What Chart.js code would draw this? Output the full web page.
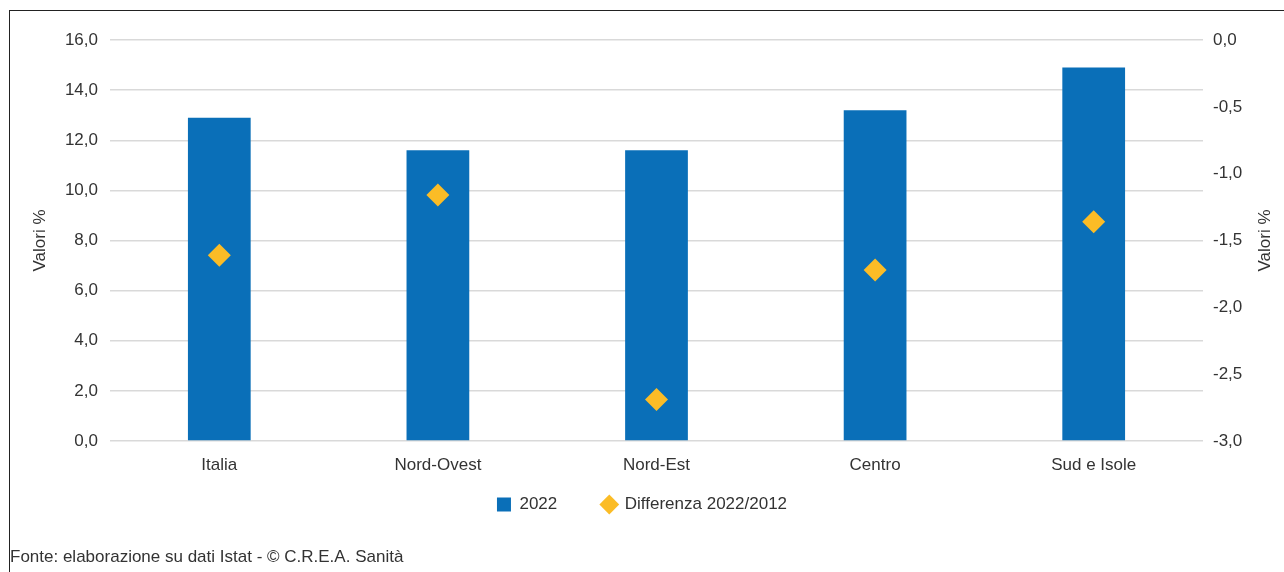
<!DOCTYPE html>
<html>
<head>
<meta charset="utf-8">
<script src="https://cdn.jsdelivr.net/npm/chart.js@4/dist/chart.umd.min.js"></script>
<style>
  html, body { margin: 0; padding: 0; background: #fff; }
  #wrap { position: relative; width: 1284px; height: 572px; overflow: hidden; }
  #frame { position: absolute; left: 9px; top: 10px; width: 1400px; height: 700px; border: 1.5px solid #222; box-sizing: border-box; }
  #chartRegioni { position: absolute; left: 0; top: 0; }
</style>
</head>
<body>
<div id="wrap">
  <div id="frame"></div>
  <canvas id="chartRegioni" width="1284" height="572"></canvas>
</div>
<script>
// Dati
var categorie = ['Italia', 'Nord-Ovest', 'Nord-Est', 'Centro', 'Sud e Isole'];
var valori2022 = [12.9, 11.6, 11.6, 13.2, 14.9];
var differenza = [-1.61, -1.16, -2.69, -1.72, -1.36];
var tickSinistra = [0, 2, 4, 6, 8, 10, 12, 14, 16];
var tickDestra = [-3, -2.5, -2, -1.5, -1, -0.5, 0];

var FONT = "'Liberation Sans Narrow', 'Arial Narrow', 'Liberation Sans', sans-serif";
var testo = '#333333';
var griglia = '#d9d9d9';

function virgola(v) {
    return v.toFixed(1).replace('.', ',');
}

// titoli degli assi (entrambi dal basso verso l'alto) e nota della fonte
var titoliPlugin = {
    id: 'titoli',
    afterDraw: function (chart) {
        var c = chart.ctx;
        var area = chart.chartArea;
        var midY = (area.top + area.bottom) / 2;
        c.save();
        c.fillStyle = testo;
        c.font = '17px ' + FONT;
        c.textAlign = 'center';
        c.textBaseline = 'middle';
        [40, 1265].forEach(function (x) {
            c.save();
            c.translate(x, midY);
            c.rotate(-Math.PI / 2);
            c.fillText('Valori %', 0, 0);
            c.restore();
        });
        c.textAlign = 'left';
        c.fillText('Fonte: elaborazione su dati Istat - \u00A9 C.R.E.A. Sanit\u00E0', 10, 557);
        c.restore();
    }
};

var ctx = document.getElementById('chartRegioni').getContext('2d');

var myChart = new Chart(ctx, {
    type: 'bar',
    data: {
        labels: categorie,
        datasets: [{
            label: '2022',
            data: valori2022,
            backgroundColor: '#0a6fb8',
            borderWidth: 0,
            barPercentage: 0.287,
            categoryPercentage: 1,
            yAxisID: 'y',
            pointStyle: 'rect',
            order: 2
        }, {
            type: 'line',
            label: 'Differenza 2022/2012',
            data: differenza,
            showLine: false,
            pointStyle: 'rectRot',
            pointRadius: 11.5,
            pointHoverRadius: 11.5,
            pointBackgroundColor: '#fbbc26',
            pointBorderWidth: 0,
            backgroundColor: '#fbbc26',
            borderColor: '#fbbc26',
            yAxisID: 'y1',
            order: 1
        }]
    },
    options: {
        responsive: false,
        animation: false,
        layout: { padding: { top: 40, left: 0, right: 0, bottom: 49 } },
        scales: {
            x: {
                grid: { display: false, drawTicks: false },
                border: { display: false },
                // etichette "mirror" con padding negativo: restano sotto l'asse senza ritaglio
                afterFit: function (s) { s.height = 10; },
                ticks: { color: testo, font: { family: FONT, size: 17 }, mirror: true, padding: -35 }
            },
            y: {
                position: 'left',
                min: 0,
                max: 16,
                afterBuildTicks: function (s) {
                    s.ticks = tickSinistra.map(function (v) { return { value: v }; });
                },
                afterFit: function (s) { s.width = 110; },
                grid: { color: griglia, lineWidth: 1.5, drawTicks: false },
                border: { display: false },
                ticks: {
                    color: testo,
                    font: { family: FONT, size: 17 },
                    padding: 12,
                    callback: function (v) { return virgola(v); }
                }
            },
            y1: {
                position: 'right',
                min: -3,
                max: 0,
                afterBuildTicks: function (s) {
                    s.ticks = tickDestra.map(function (v) { return { value: v }; });
                },
                afterFit: function (s) { s.width = 81; },
                grid: { display: false, drawTicks: false },
                border: { display: false },
                ticks: {
                    color: testo,
                    font: { family: FONT, size: 17 },
                    padding: 10,
                    callback: function (v) { return virgola(v); }
                }
            }
        },
        plugins: {
            legend: {
                position: 'bottom',
                labels: {
                    color: testo,
                    font: { family: FONT, size: 17 },
                    usePointStyle: true,
                    boxWidth: 14,
                    boxHeight: 14,
                    padding: 45,
                    sort: function (a, b) { return a.datasetIndex - b.datasetIndex; }
                }
            },
            tooltip: { enabled: false }
        }
    },
    plugins: [titoliPlugin]
});
</script>
</body>
</html>
